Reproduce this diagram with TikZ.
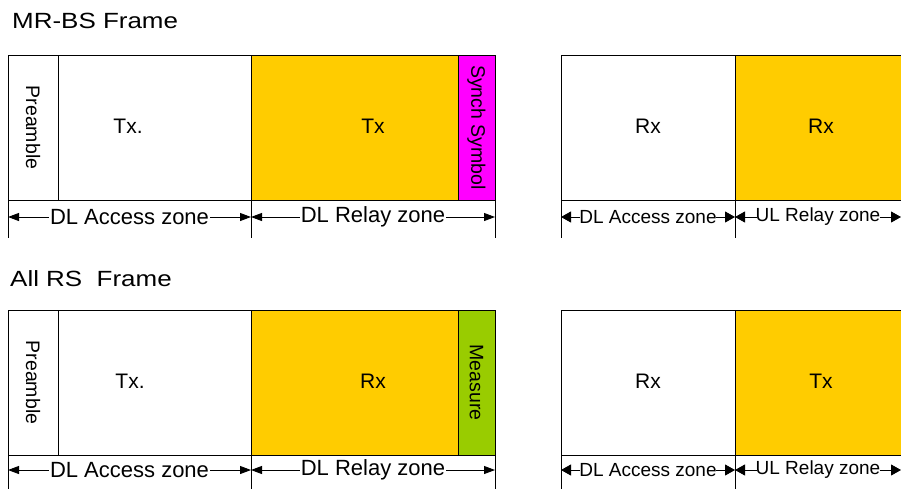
\documentclass[tikz,border=0pt]{standalone}
\usepackage{fontspec}
\setmainfont{Liberation Sans}
\newfontfamily\titlefont[FakeStretch=1.18]{Liberation Sans}
\usetikzlibrary{arrows.meta}
\definecolor{relayorange}{HTML}{FFCC00}
\definecolor{synchmag}{HTML}{FF00FF}
\definecolor{measgreen}{HTML}{99CC00}
\tikzset{
  seg/.style={draw=black, line width=0.9pt, minimum height=145pt, inner sep=0pt,
    outer sep=0pt, anchor=north west},
  boxlabel/.style={inner sep=0pt, font=\fontsize{21}{21}\selectfont},
  vtext/.style={font=\fontsize{19.5}{19.5}\selectfont, rotate=-90},
  ticker/.style={draw=black, line width=0.9pt},
  bigzone/.style={draw=black, line width=0.9pt, {Triangle[length=11pt,width=8pt]}-{Triangle[length=11pt,width=8pt]}},
  smallarrow/.style={draw=black, line width=0.9pt, -{Triangle[length=10pt,width=11pt]}, shorten <=-1pt},
  bigzlabel/.style={fill=white, inner xsep=1pt, inner ysep=0pt, font=\fontsize{22}{22}\selectfont},
  smallzlabel/.style={inner xsep=0pt, inner ysep=0pt, font=\fontsize{19}{19}\selectfont},
  framettl/.style={anchor=base west, inner sep=0pt, font=\titlefont\fontsize{22}{22}\selectfont}
}
\begin{document}
\begin{tikzpicture}[x=1pt,y=-1pt]
\useasboundingbox (0,0) rectangle (901,488);
\begin{scope}
\clip (0,0) rectangle (901,488);

% ---------- MR-BS frame ----------
\node[framettl] (t1) at (12,28) {MR-BS Frame};
\node[seg, minimum width=50pt] (p1) at (8,55) {};
\node[vtext] (p1t) at (p1.center) {Preamble};
\node[seg, minimum width=193pt] (a1) at (58,55) {};
\node[boxlabel] (a1t) at (128,126) {Tx.};
\node[seg, fill=relayorange, minimum width=207pt] (r1) at (251,55) {};
\node[boxlabel] (r1t) at (373,126) {Tx};
\node[seg, fill=synchmag, minimum width=37pt] (s1) at (458,55) {};
\node[vtext] (s1t) at (s1.center) {Synch Symbol};
\node[seg, minimum width=174pt] (ra1) at (561,55) {};
\node[boxlabel] (ra1t) at (648,126) {Rx};
\node[seg, fill=relayorange, minimum width=175pt] (rr1) at (735,55) {};
\node[boxlabel] (rr1t) at (821,126) {Rx};

\coordinate (k1a) at (8,238);
\coordinate (k1b) at (251,238);
\coordinate (k1c) at (495,238);
\coordinate (k1d) at (561,238);
\coordinate (k1e) at (735,238);
\draw[ticker] (p1.south west) -- (k1a);
\draw[ticker] (r1.south west) -- (k1b);
\draw[ticker] (s1.south east) -- (k1c);
\draw[ticker] (ra1.south west) -- (k1d);
\draw[ticker] (rr1.south west) -- (k1e);

\coordinate (z1a) at (8,217);
\coordinate (z1b) at (251,217);
\coordinate (z1c) at (495,217);
\coordinate (z1d) at (561,217);
\coordinate (z1e) at (735,217);
\coordinate (z1f) at (901,217);
\draw[bigzone] (z1a) -- (z1b) node[midway, bigzlabel] {DL Access zone};
\draw[bigzone] (z1b) -- (z1c) node[midway, bigzlabel] {DL Relay zone};
\node[smallzlabel] (u1a) at (648,217) {DL Access zone};
\node[smallzlabel] (u1b) at (818,217) {UL Relay zone};
\draw[smallarrow] (u1a.west) -- (z1d);
\draw[smallarrow] (u1a.east) -- (z1e);
\draw[smallarrow] (u1b.west) -- (z1e);
\draw[smallarrow] (u1b.east) -- (z1f);

% ---------- All RS frame ----------
\node[framettl] (t2) at (10,286) {All RS~ Frame};
\node[seg, minimum width=50pt] (p2) at (8,310) {};
\node[vtext] (p2t) at (p2.center) {Preamble};
\node[seg, minimum width=193pt] (a2) at (58,310) {};
\node[boxlabel] (a2t) at (130,381) {Tx.};
\node[seg, fill=relayorange, minimum width=207pt] (r2) at (251,310) {};
\node[boxlabel] (r2t) at (373,381) {Rx};
\node[seg, fill=measgreen, minimum width=37pt] (s2) at (458,310) {};
\node[vtext] (s2t) at (s2.center) {Measure};
\node[seg, minimum width=174pt] (ra2) at (561,310) {};
\node[boxlabel] (ra2t) at (648,381) {Rx};
\node[seg, fill=relayorange, minimum width=175pt] (rr2) at (735,310) {};
\node[boxlabel] (rr2t) at (821,381) {Tx};

\coordinate (k2a) at (8,490);
\coordinate (k2b) at (251,490);
\coordinate (k2c) at (495,490);
\coordinate (k2d) at (561,490);
\coordinate (k2e) at (735,490);
\draw[ticker] (p2.south west) -- (k2a);
\draw[ticker] (r2.south west) -- (k2b);
\draw[ticker] (s2.south east) -- (k2c);
\draw[ticker] (ra2.south west) -- (k2d);
\draw[ticker] (rr2.south west) -- (k2e);

\coordinate (z2a) at (8,470);
\coordinate (z2b) at (251,470);
\coordinate (z2c) at (495,470);
\coordinate (z2d) at (561,470);
\coordinate (z2e) at (735,470);
\coordinate (z2f) at (901,470);
\draw[bigzone] (z2a) -- (z2b) node[midway, bigzlabel] {DL Access zone};
\draw[bigzone] (z2b) -- (z2c) node[midway, bigzlabel] {DL Relay zone};
\node[smallzlabel] (u2a) at (648,470) {DL Access zone};
\node[smallzlabel] (u2b) at (818,470) {UL Relay zone};
\draw[smallarrow] (u2a.west) -- (z2d);
\draw[smallarrow] (u2a.east) -- (z2e);
\draw[smallarrow] (u2b.west) -- (z2e);
\draw[smallarrow] (u2b.east) -- (z2f);
\end{scope}
\end{tikzpicture}
\end{document}
